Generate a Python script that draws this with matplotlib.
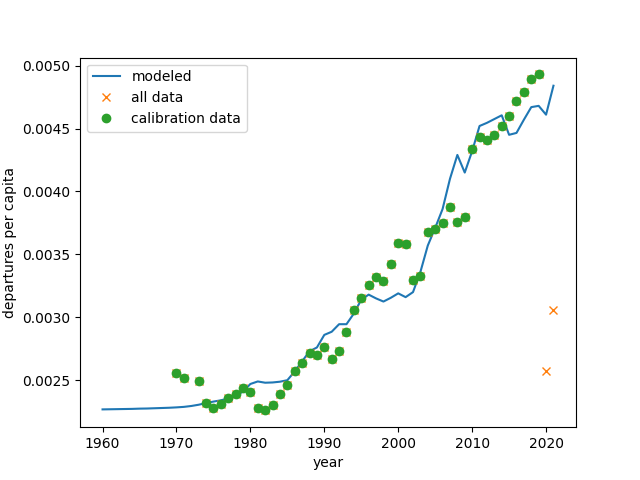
import numpy as np
import matplotlib
matplotlib.use("Agg")
import matplotlib.pyplot as plt

# modeled series, 1960-2021
model_years = np.arange(1960, 2022)
model_values = [
    0.002268, 0.002269, 0.002270, 0.002271, 0.002272, 0.002274, 0.002275, 0.002277,
    0.002279, 0.002281, 0.002284, 0.002288, 0.002295, 0.002305, 0.002318, 0.002330,
    0.002340, 0.002355, 0.002375, 0.002410, 0.002470, 0.002490, 0.002480, 0.002482,
    0.002488, 0.002500, 0.002570, 0.002650, 0.002730, 0.002760, 0.002860, 0.002885,
    0.002945, 0.002945, 0.003030, 0.003140, 0.003180, 0.003150, 0.003125, 0.003155,
    0.003190, 0.003160, 0.003200, 0.003360, 0.003570, 0.003710, 0.003860, 0.004100,
    0.004290, 0.004150, 0.004320, 0.004520, 0.004545, 0.004575, 0.004605, 0.004450,
    0.004465, 0.004570, 0.004670, 0.004680, 0.004610, 0.004840,
]

# calibration data, 1970-2019 (1972 missing)
calib_years = [1970, 1971] + list(range(1973, 2020))
calib_values = [
    0.002560, 0.002520,
    0.002490, 0.002320, 0.002280, 0.002310, 0.002360, 0.002390, 0.002440, 0.002410,
    0.002280, 0.002260, 0.002300, 0.002390, 0.002460, 0.002570, 0.002640, 0.002720,
    0.002700, 0.002760, 0.002670, 0.002730, 0.002880, 0.003060, 0.003150, 0.003260,
    0.003320, 0.003290, 0.003420, 0.003590, 0.003580, 0.003300, 0.003330, 0.003680,
    0.003700, 0.003750, 0.003880, 0.003760, 0.003800, 0.004340, 0.004430, 0.004410,
    0.004450, 0.004520, 0.004600, 0.004720, 0.004790, 0.004890, 0.004930,
]

# all data = calibration data plus later years
extra_years = [2020, 2021]
extra_values = [0.002570, 0.003060]
all_years = calib_years + extra_years
all_values = calib_values + extra_values

fig, ax = plt.subplots(figsize=(6.4, 4.8), dpi=100)
ax.plot(model_years, model_values, label="modeled")
ax.plot(all_years, all_values, "x", label="all data")
ax.plot(calib_years, calib_values, "o", label="calibration data")
ax.set_xlabel("year")
ax.set_ylabel("departures per capita")
ax.legend(loc="upper left")

fig.savefig("out.png")
